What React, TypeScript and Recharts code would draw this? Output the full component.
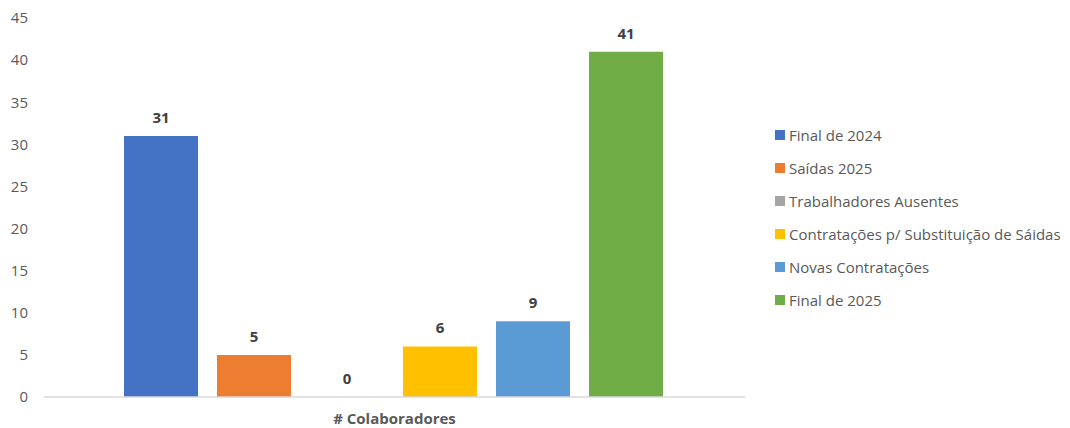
import { Bar, BarChart, LabelList, XAxis, YAxis } from "recharts";

const category = "# Colaboradores";
const seriesNames = [
  "Final de 2024",
  "Saídas 2025",
  "Trabalhadores Ausentes",
  "Contratações p/ Substituição de Sáidas",
  "Novas Contratações",
  "Final de 2025",
];
const seriesValues = [31, 5, 0, 6, 9, 41];
const seriesColors = ["#4472C4", "#ED7D31", "#A5A5A5", "#FFC000", "#5B9BD5", "#70AD47"];
const yTicks = [0, 5, 10, 15, 20, 25, 30, 35, 40, 45];

const keys = seriesNames.map((_, i) => `s${i}`);
const row: Record<string, string | number> = { name: category };
keys.forEach((k, i) => {
  row[k] = seriesValues[i];
});
const data = [row];

const font = "'Open Sans', 'Noto Sans', sans-serif";

function LegendList() {
  return (
    <div
      style={{
        position: "absolute",
        left: 775,
        top: 118,
        fontFamily: font,
        fontSize: 15,
        color: "#595959",
      }}
    >
      {seriesNames.map((n, i) => (
        <div key={n} style={{ display: "flex", alignItems: "center", height: 33, whiteSpace: "nowrap" }}>
          <span
            style={{
              display: "inline-block",
              width: 10,
              height: 10,
              background: seriesColors[i],
              marginRight: 4,
            }}
          />
          <span>{n}</span>
        </div>
      ))}
    </div>
  );
}

export default function App() {
  return (
    <div style={{ position: "absolute", left: 0, top: 0, width: 1070, height: 428, background: "#fff" }}>
      <BarChart
        width={1070}
        height={428}
        data={data}
        margin={{ top: 18, right: 325, bottom: 0, left: 0 }}
        barGap={19}
        barCategoryGap={80}
      >
        <XAxis
          dataKey="name"
          tickLine={false}
          axisLine={{ stroke: "#d9d9d9", strokeWidth: 1.5 }}
          tick={{ fontSize: 15, fontWeight: 700, fill: "#595959", fontFamily: font }}
          tickMargin={10}
          height={31}
        />
        <YAxis
          domain={[0, 45]}
          ticks={yTicks}
          interval={0}
          axisLine={false}
          tickLine={false}
          tickSize={0}
          tickMargin={16}
          width={44}
          tick={{ fontSize: 15, fill: "#595959", fontFamily: font }}
        />
        {keys.map((k, i) => (
          <Bar
            key={k}
            dataKey={k}
            name={seriesNames[i]}
            fill={seriesColors[i]}
            minPointSize={0.1}
            isAnimationActive={false}
          >
            <LabelList
              dataKey={k}
              position="top"
              offset={13}
              style={{ fontSize: 15, fontWeight: 700, fill: "#404040", fontFamily: font }}
            />
          </Bar>
        ))}
      </BarChart>
      <LegendList />
    </div>
  );
}
